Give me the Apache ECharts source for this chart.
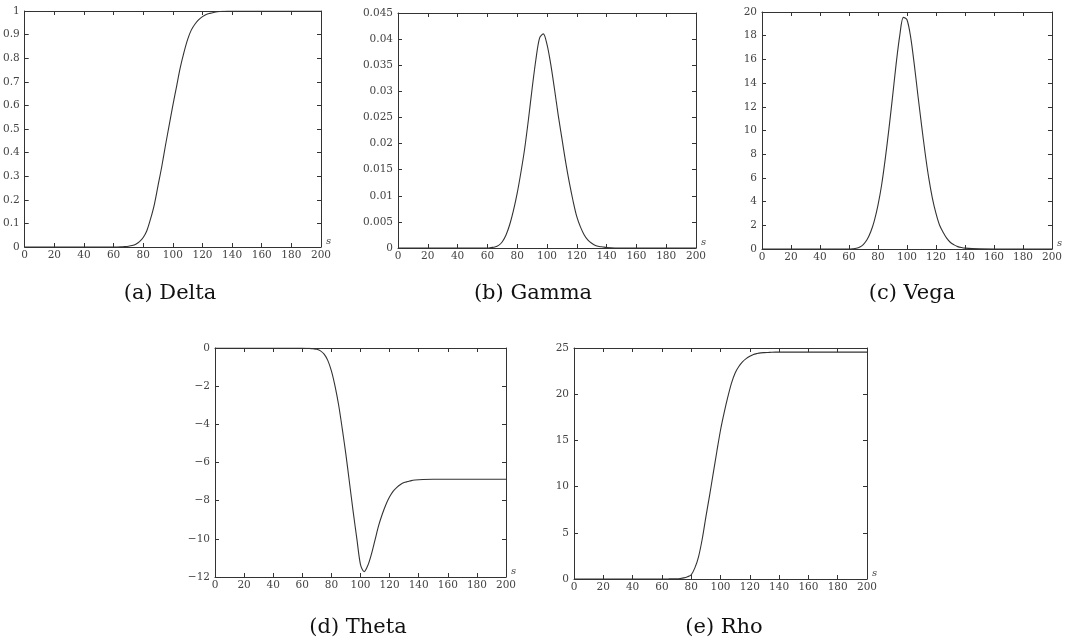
<!DOCTYPE html>
<html>
<head>
<meta charset="utf-8">
<script src="https://cdn.jsdelivr.net/npm/echarts@6/dist/echarts.min.js"></script>
<style>
html,body{margin:0;padding:0;background:#fff;}
#c{width:1065px;height:639px;}
</style>
</head>
<body>
<div id="c"></div>
<script>
// Stock price s (x positions of the sampled points)
const xs = [0, 20, 40,
  60, 62.5, 65, 67.5, 70, 72.5, 75, 77.5, 80, 82.5, 85, 87.5, 90, 92.5, 95, 97.5,
  100, 102.5, 105, 107.5, 110, 112.5, 115, 117.5, 120, 122.5, 125, 127.5, 130, 132.5, 135, 137.5, 140,
  150, 160, 180, 200];

const delta = [0, 0, 0,
  0, 0, 0.0005, 0.0015, 0.003, 0.006, 0.012, 0.023, 0.04, 0.07, 0.12, 0.18, 0.26, 0.34, 0.43, 0.515,
  0.60, 0.68, 0.76, 0.825, 0.88, 0.92, 0.945, 0.963, 0.976, 0.985, 0.99, 0.994, 0.997, 0.998, 0.999, 0.9995, 1,
  1, 1, 1, 1];

const gamma = [0, 0, 0,
  0, 0.0001, 0.0002, 0.0005, 0.0012, 0.0025, 0.0045, 0.0072, 0.0105, 0.0145, 0.019, 0.0245, 0.0305, 0.036, 0.0402, 0.041,
  0.039, 0.0352, 0.0305, 0.0255, 0.021, 0.0165, 0.0125, 0.009, 0.006, 0.004, 0.0025, 0.0015, 0.0009, 0.0005, 0.0003, 0.0002, 0.0001,
  0, 0, 0, 0];

const vega = [0, 0, 0,
  0, 0.02, 0.06, 0.17, 0.4, 0.8, 1.45, 2.4, 3.7, 5.4, 7.6, 10.1, 12.8, 15.6, 18.0, 19.55,
  19.35, 17.9, 15.6, 13.0, 10.5, 8.1, 6.0, 4.3, 3.0, 2.0, 1.4, 0.9, 0.55, 0.35, 0.2, 0.12, 0.07,
  0.01, 0, 0, 0];

const theta = [0, 0, 0,
  -0.005, -0.01, -0.02, -0.04, -0.07, -0.15, -0.32, -0.65, -1.2, -2.0, -3.0, -4.25, -5.6, -7.1, -8.6, -10.0,
  -11.35, -11.72, -11.4, -10.8, -10.05, -9.3, -8.7, -8.2, -7.8, -7.5, -7.3, -7.15, -7.05, -7.0, -6.95, -6.92, -6.9,
  -6.88, -6.88, -6.88, -6.88];

const rho = [0, 0, 0,
  0, 0, 0.01, 0.02, 0.03, 0.06, 0.12, 0.25, 0.45, 1.2, 2.4, 4.3, 6.7, 9.0, 11.4, 13.8,
  16.1, 18.0, 19.7, 21.2, 22.3, 23.0, 23.5, 23.85, 24.1, 24.3, 24.4, 24.47, 24.5, 24.52, 24.54, 24.55, 24.55,
  24.55, 24.55, 24.55, 24.55];

const captions = ['(a) Delta', '(b) Gamma', '(c) Vega', '(d) Theta', '(e) Rho'];
const yMins = [0, 0, 0, -12, 0];
const yMaxs = [1, 0.045, 20, 0, 25];
const yIntervals = [0.1, 0.005, 2, 2, 5];
const xMin = 0, xMax = 200, xInterval = 20;

const seriesValues = [delta, gamma, vega, theta, rho];

const grids = [
  {left: 22,  top: 11,  width: 299, height: 236},
  {left: 398, top: 13,  width: 298, height: 235},
  {left: 762, top: 12,  width: 300, height: 237},
  {left: 215, top: 348, width: 291, height: 229},
  {left: 574, top: 348, width: 293, height: 231}
];
const captionPos = [[165, 289], [528, 289], [907, 289], [353, 623], [719, 623]];

const axisColor = '#333';
const labelFont = {fontFamily: 'DejaVu Serif', fontSize: 10.5, color: '#444'};
const fmtMinus = v => String(v).replace('-', '\u2212');

const xAxes = [], yAxes = [], series = [], titles = [];
grids.forEach((g, i) => {
  xAxes.push({
    type: 'value', gridIndex: i, position: 'bottom', min: xMin, max: xMax, interval: xInterval,
    name: 's', nameLocation: 'end', nameGap: 5,
    nameTextStyle: {fontFamily: 'DejaVu Serif', fontStyle: 'italic', fontSize: 10, color: '#444', verticalAlign: 'bottom', padding: [0, 0, 1, 0]},
    axisLine: {show: true, onZero: false, lineStyle: {color: axisColor, width: 1}},
    axisTick: {show: true, inside: true, length: 4, lineStyle: {color: axisColor}},
    axisLabel: Object.assign({margin: 3}, labelFont),
    splitLine: {show: false}
  });
  xAxes.push({
    type: 'value', gridIndex: i, position: 'top', min: xMin, max: xMax, interval: xInterval,
    axisLine: {show: true, onZero: false, lineStyle: {color: axisColor, width: 1}},
    axisTick: {show: true, inside: true, length: 4, lineStyle: {color: axisColor}},
    axisLabel: {show: false}, splitLine: {show: false}
  });
  yAxes.push({
    type: 'value', gridIndex: i, position: 'left', min: yMins[i], max: yMaxs[i], interval: yIntervals[i],
    axisLine: {show: true, onZero: false, lineStyle: {color: axisColor, width: 1}},
    axisTick: {show: true, inside: true, length: 4, lineStyle: {color: axisColor}},
    axisLabel: Object.assign({margin: 5, formatter: fmtMinus}, labelFont),
    splitLine: {show: false}
  });
  yAxes.push({
    type: 'value', gridIndex: i, position: 'right', min: yMins[i], max: yMaxs[i], interval: yIntervals[i],
    axisLine: {show: true, onZero: false, lineStyle: {color: axisColor, width: 1}},
    axisTick: {show: true, inside: true, length: 4, lineStyle: {color: axisColor}},
    axisLabel: {show: false}, splitLine: {show: false}
  });
  series.push({
    type: 'line', xAxisIndex: 2 * i, yAxisIndex: 2 * i,
    data: xs.map((x, k) => [x, seriesValues[i][k]]),
    showSymbol: false, smooth: 0.3,
    lineStyle: {color: '#333', width: 1.1},
    silent: true, animation: false
  });
  titles.push({
    text: captions[i], left: captionPos[i][0], top: captionPos[i][1],
    textAlign: 'center', textVerticalAlign: 'middle',
    textStyle: {fontFamily: 'DejaVu Serif', fontSize: 21, fontWeight: 'normal', color: '#111'}
  });
});

const chart = echarts.init(document.getElementById('c'), null, {renderer: 'canvas'});
chart.setOption({
  animation: false,
  backgroundColor: '#fff',
  title: titles,
  grid: grids.map(g => Object.assign({containLabel: false}, g)),
  xAxis: xAxes,
  yAxis: yAxes,
  series: series
});
</script>
</body>
</html>
